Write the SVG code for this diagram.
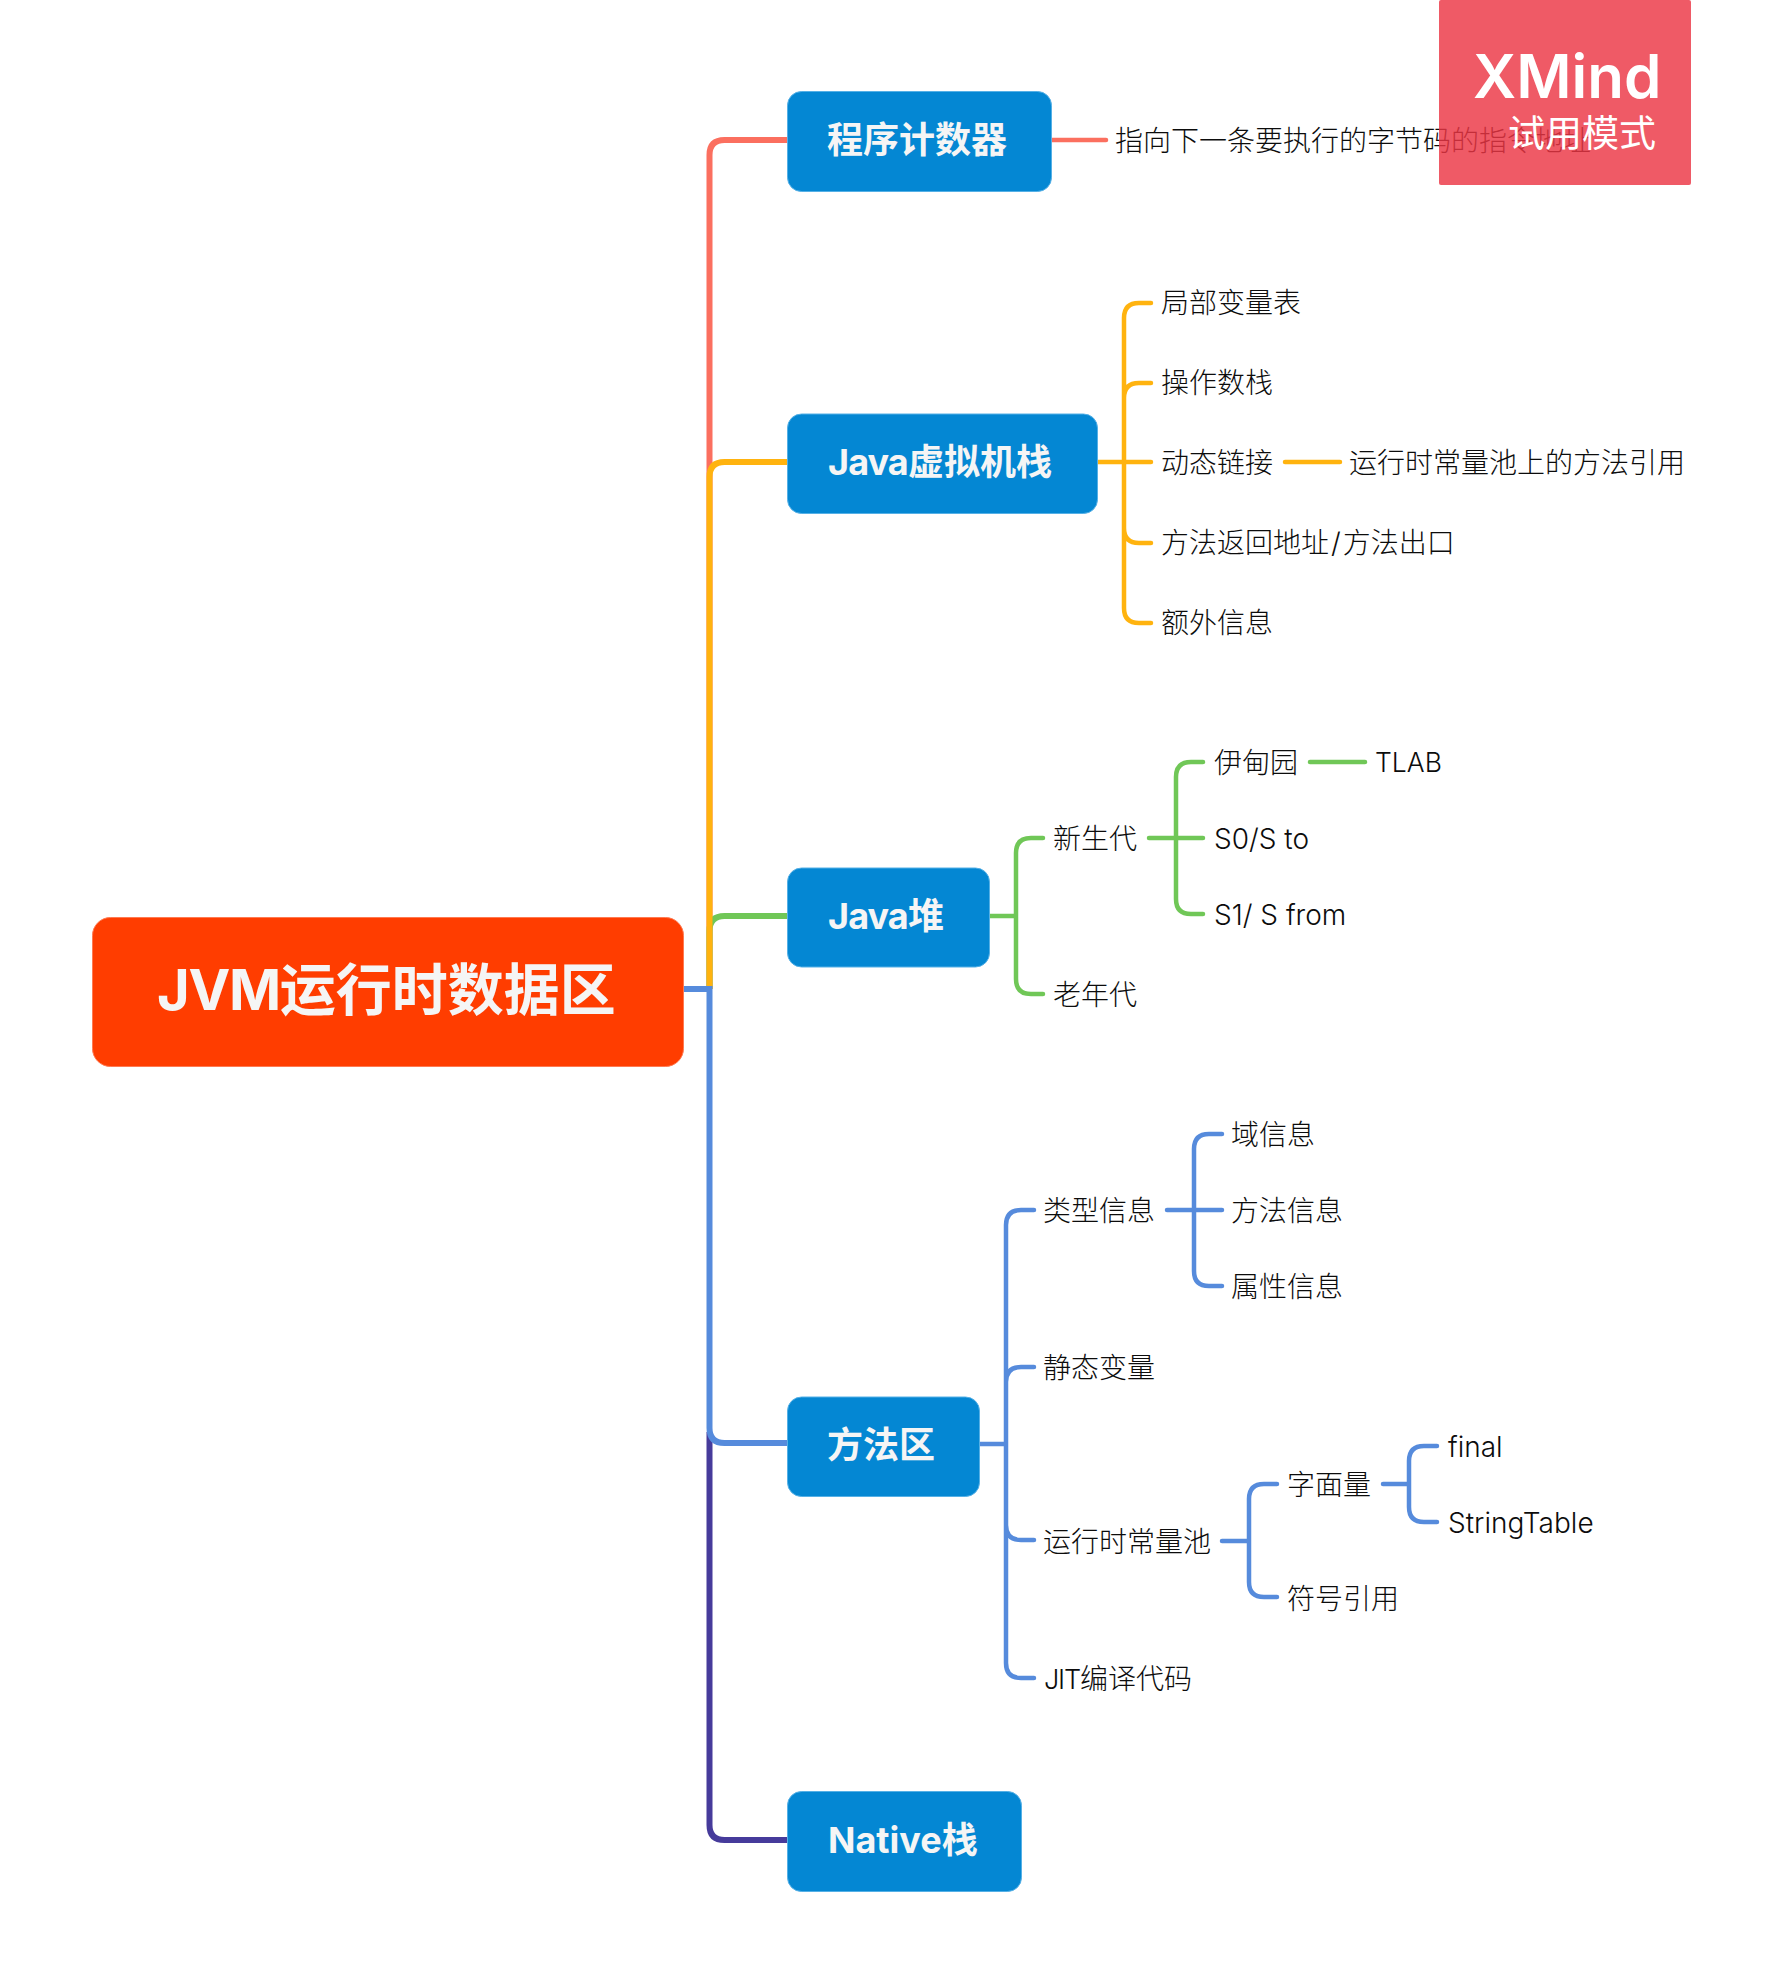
<svg xmlns="http://www.w3.org/2000/svg" width="1785" height="1979" viewBox="0 0 1785 1979">
<style>
text{font-family:"Inter","Noto Sans CJK SC",sans-serif}
.l{font-size:28px;fill:#0c0c0c;font-weight:300}
.s{letter-spacing:-.9px}
.t{font-size:36px;font-weight:700;fill:#f5f5f5}
.b{fill:#0487d3;stroke:#55b0e6;stroke-width:1}
.c{fill:none;stroke-linecap:round;stroke-width:4.5}
.m{fill:none;stroke-width:6}
.red{stroke:#fb6f5f}.yel{stroke:#ffb30f}.gre{stroke:#70c757}.blu{stroke:#568bdc}.pur{stroke:#463b9b}
</style>
<g id="connectors">
<path class="m red" d="M709.5 989V155Q709.5 140 724.5 140H788"/>
<path class="m pur" d="M709.5 1432V1825Q709.5 1840 724.5 1840H788"/>
<path class="m gre" d="M709.5 989V931Q709.5 916 724.5 916H788"/>
<path class="m yel" d="M709.5 989V477Q709.5 462 724.5 462H788"/>
<path class="m blu" d="M683 989H709.5V1428Q709.5 1443 724.5 1443H788"/>
<path class="c red" d="M1052 140H1106"/>
<path class="c yel" d="M1098 462H1151M1151 303H1139Q1124 303 1124 318V608Q1124 623 1139 623H1151M1151 383H1139Q1124 383 1124 398V528Q1124 543 1139 543H1151M1285 462H1340"/>
<path class="c gre" d="M990 916H1016M1043 838H1031Q1016 838 1016 853V979Q1016 994 1031 994H1043M1149 838H1203M1203 762H1191Q1176 762 1176 777V899Q1176 914 1191 914H1203M1310 762H1365"/>
<path class="c blu" d="M980 1444H1006M1034 1210H1021Q1006 1210 1006 1225V1663Q1006 1678 1021 1678H1034M1034 1367H1021Q1006 1367 1006 1382M1006 1525Q1006 1540 1021 1540H1034M1167 1210H1222M1222 1134H1209Q1194 1134 1194 1149V1271Q1194 1286 1209 1286H1222M1222 1541H1249M1277 1484H1264Q1249 1484 1249 1499V1582Q1249 1597 1264 1597H1277M1383 1484H1409M1437 1446H1424Q1409 1446 1409 1461V1507Q1409 1522 1424 1522H1437"/>
</g>
<g id="root"><rect x="92.5" y="917.5" width="591" height="149" rx="18" fill="#ff3d00" stroke="#ff7a52"/><text x="157" y="1010" font-size="56" font-weight="700" fill="#f5f5f5"><tspan letter-spacing="-1.3">JVM</tspan>运行时数据区</text></g>
<g id="n1"><rect class="b" x="787.5" y="91.5" width="264" height="100" rx="14"/><text class="t" x="827" y="153">程序计数器</text></g>
<g id="n2"><rect class="b" x="787.5" y="414" width="310" height="99.5" rx="14"/><text class="t" x="828" y="475"><tspan class="s">Java</tspan>虚拟机栈</text></g>
<g id="n3"><rect class="b" x="787.5" y="868" width="202" height="99" rx="14"/><text class="t" x="828" y="929"><tspan class="s">Java</tspan>堆</text></g>
<g id="n4"><rect class="b" x="787.5" y="1397" width="192" height="99.5" rx="14"/><text class="t" x="827" y="1458">方法区</text></g>
<g id="n5"><rect class="b" x="787.5" y="1791.5" width="234" height="100" rx="14"/><text class="t" x="828" y="1853">Native栈</text></g>
<g id="l1"><text class="l" x="1115" y="151">指向下一条要执行的字节码的指令地址</text></g>
<g id="l2"><text class="l" x="1161" y="313">局部变量表</text></g>
<g id="l3"><text class="l" x="1161" y="393">操作数栈</text></g>
<g id="l4"><text class="l" x="1161" y="473">动态链接</text></g>
<g id="l5"><text class="l" x="1349" y="473">运行时常量池上的方法引用</text></g>
<g id="l6"><text class="l" x="1161" y="553">方法返回地址<tspan dx="2">/</tspan><tspan dx="2">方法出口</tspan></text></g>
<g id="l7"><text class="l" x="1161" y="633">额外信息</text></g>
<g id="l8"><text class="l" x="1053" y="849">新生代</text></g>
<g id="l9"><text class="l" x="1053" y="1005">老年代</text></g>
<g id="l10"><text class="l" x="1214" y="773">伊甸园</text></g>
<g id="l11"><text class="l" x="1375" y="772" font-size="26.5" style="font-size:26.5px">TLAB</text></g>
<g id="l12"><text class="l" x="1214" y="849">S0/S to</text></g>
<g id="l13"><text class="l" x="1214" y="925">S1/ S from</text></g>
<g id="l14"><text class="l" x="1043" y="1221">类型信息</text></g>
<g id="l15"><text class="l" x="1231" y="1145">域信息</text></g>
<g id="l16"><text class="l" x="1231" y="1221">方法信息</text></g>
<g id="l17"><text class="l" x="1231" y="1297">属性信息</text></g>
<g id="l18"><text class="l" x="1043" y="1378">静态变量</text></g>
<g id="l19"><text class="l" x="1043" y="1552">运行时常量池</text></g>
<g id="l20"><text class="l" x="1287" y="1495">字面量</text></g>
<g id="l21"><text class="l" x="1287" y="1609">符号引用</text></g>
<g id="l22"><text class="l" x="1448" y="1457">final</text></g>
<g id="l23"><text class="l" x="1448" y="1533">StringTable</text></g>
<g id="l24"><text class="l" x="1044" y="1689"><tspan letter-spacing="-1.2" style="font-size:27px">JIT</tspan>编译代码</text></g>
<g id="watermark"><rect x="1439" y="0" width="252" height="185" rx="2" fill="#ec3644" fill-opacity=".82"/><text x="1473" y="98" font-size="60" font-weight="600" fill="#fff">XMind</text><text x="1508" y="147" font-size="37" fill="#fff">试用模式</text></g>
</svg>
